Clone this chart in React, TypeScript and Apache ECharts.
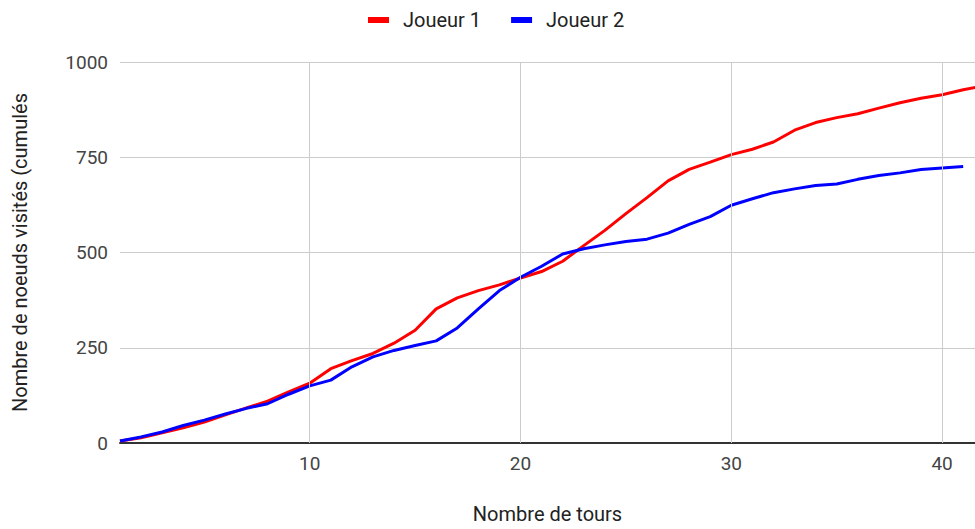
import React, { useEffect, useRef } from "react";
import * as echarts from "echarts";

const tours = [1,2,3,4,5,6,7,8,9,10,11,12,13,14,15,16,17,18,19,20,21,22,23,24,25,26,27,28,29,30,31,32,33,34,35,36,37,38,39,40,41,42];
const joueur1 = [5,14,27,40,55,74,92,110,134,157,195,216,235,262,296,352,381,400,415,433,450,477,518,558,602,644,688,718,737,757,771,790,821,841,854,864,879,893,905,914,927,938];
const joueur2 = [5,16,29,46,60,76,91,103,128,150,165,200,226,243,256,268,302,352,400,435,464,496,510,520,529,535,551,574,594,624,641,657,667,676,680,692,702,709,718,722,726];
const xTicks = [10, 20, 30, 40];
const yTicks = [0, 250, 500, 750, 1000];

const FONT = "Roboto";

export default function App() {
  const ref = useRef<HTMLDivElement>(null);
  useEffect(() => {
    if (!ref.current) return;
    const chart = echarts.init(ref.current, null, { renderer: "svg" });
    const pairs = (vals: number[]) => vals.map((v, i) => [tours[i], v]);
    chart.setOption({
      animation: false,
      textStyle: { fontFamily: FONT },
      legend: {
        left: 363,
        top: 5,
        icon: "rect",
        itemWidth: 21,
        itemHeight: 6,
        itemGap: 30,
        textStyle: { fontFamily: FONT, fontSize: 20, color: "#222", padding: [0, 0, 0, 9] },
        data: ["Joueur 1", "Joueur 2"],
      },
      grid: { left: 120, right: 0, top: 62, bottom: 82, containLabel: false },
      xAxis: {
        type: "value",
        min: 1,
        max: 41.56,
        name: "Nombre de tours",
        nameLocation: "middle",
        nameGap: 61,
        nameTextStyle: { fontFamily: FONT, fontSize: 20, color: "#222" },
        axisLine: { show: true, lineStyle: { color: "#333", width: 2 } },
        axisTick: { show: false },
        splitLine: { show: false },
        axisLabel: {
          customValues: xTicks,
          fontFamily: FONT,
          fontSize: 19,
          color: "#444",
          margin: 11,
        },
      },
      yAxis: {
        type: "value",
        min: yTicks[0],
        max: yTicks[yTicks.length - 1],
        interval: 250,
        name: "Nombre de noeuds visités (cumulés",
        nameLocation: "middle",
        nameGap: 90,
        nameTextStyle: { fontFamily: FONT, fontSize: 20, color: "#222" },
        axisLine: { show: false },
        axisTick: { show: false },
        splitLine: { show: true, lineStyle: { color: "#cccccc", width: 1 } },
        axisLabel: {
          fontFamily: FONT,
          fontSize: 19,
          color: "#444",
          margin: 12,
          formatter: (v: number) => String(v),
        },
      },
      series: [
        {
          name: "grid-v",
          type: "line",
          data: [],
          z: 1,
          silent: true,
          markLine: {
            silent: true,
            symbol: ["none", "none"],
            label: { show: false },
            lineStyle: { color: "#cccccc", width: 1, type: "solid" },
            data: xTicks.map((v) => ({ xAxis: v })),
          },
        },
        {
          name: "Joueur 1",
          type: "line",
          data: pairs(joueur1),
          showSymbol: false,
          symbol: "none",
          clip: true,
          z: 3,
          itemStyle: { color: "#ff0000" },
          lineStyle: { color: "#ff0000", width: 3 },
        },
        {
          name: "Joueur 2",
          type: "line",
          data: pairs(joueur2),
          showSymbol: false,
          symbol: "none",
          clip: true,
          z: 4,
          itemStyle: { color: "#0000ff" },
          lineStyle: { color: "#0000ff", width: 3 },
        },
      ],
    });
    return () => chart.dispose();
  }, []);
  return (
    <div
      ref={ref}
      style={{ position: "absolute", left: 0, top: 0, width: 975, height: 529, background: "#fff" }}
    />
  );
}
